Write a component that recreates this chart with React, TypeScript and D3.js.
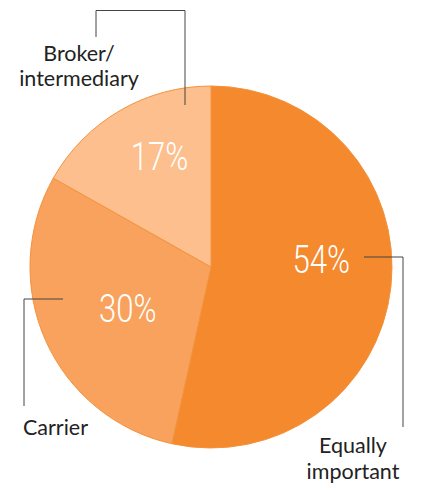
import React from "react";
import * as d3 from "d3";

// Survey shares (as printed on the chart)
const categories = ["Equally important", "Carrier", "Broker/intermediary"];
const shares = [54, 30, 17];
const sliceColors = ["#F4892D", "#F8A25D", "#FCBF8D"];

const width = 425;
const height = 500;
const cx = 211;
const cy = 267;
const radius = 181;

// small nudges from the arc centroid so the % labels sit where the original puts them
const labelNudge = [
  [-1, -19],
  [19, -4],
  [5, -13],
];

const App = () => {
  const pie = d3
    .pie<number>()
    .sort(null)
    .value((d) => d);
  const arcs = pie(shares);

  const arc = d3.arc<d3.PieArcDatum<number>>().innerRadius(0).outerRadius(radius);
  const labelArc = d3
    .arc<d3.PieArcDatum<number>>()
    .innerRadius(112)
    .outerRadius(112);

  const pctFont = { fontFamily: "Roboto, 'Open Sans', sans-serif", fontWeight: 300 };
  const catFont = { fontFamily: "Lato, 'Open Sans', sans-serif", fontWeight: 400 };

  return (
    <svg
      width={width}
      height={height}
      viewBox={`0 0 ${width} ${height}`}
      style={{ display: "block", margin: "-8px", background: "#fff" }}
    >
      <g transform={`translate(${cx},${cy})`}>
        {arcs.map((a, i) => (
          <path
            key={categories[i]}
            d={arc(a) || ""}
            fill={sliceColors[i]}
            stroke="#F3923C"
            strokeWidth={1}
          />
        ))}
        {arcs.map((a, i) => {
          const [x, y] = labelArc.centroid(a);
          return (
            <g
              key={"p" + i}
              transform={`translate(${x + labelNudge[i][0]},${y + labelNudge[i][1] + 13}) scale(0.82,1)`}
            >
              <text textAnchor="middle" fill="#fff" fontSize={38} style={pctFont}>
                {shares[i]}%
              </text>
            </g>
          );
        })}
      </g>

      {/* leader lines */}
      <g fill="none" stroke="#444" strokeWidth={1}>
        <polyline points="364,257 403,257 403,427" />
        <polyline points="63,299 24,299 24,406" />
        <polyline points="96,37 96,10.5 185,10.5 185,105" />
      </g>

      <g fill="#222" fontSize={21.5} style={catFont}>
        <text x={353} y={453} textAnchor="middle">Equally</text>
        <text x={353} y={479} textAnchor="middle">important</text>
        <text x={23} y={435}>Carrier</text>
        <text x={79} y={61} textAnchor="middle">Broker/</text>
        <text x={79} y={86} textAnchor="middle">intermediary</text>
      </g>
    </svg>
  );
};

export default App;
